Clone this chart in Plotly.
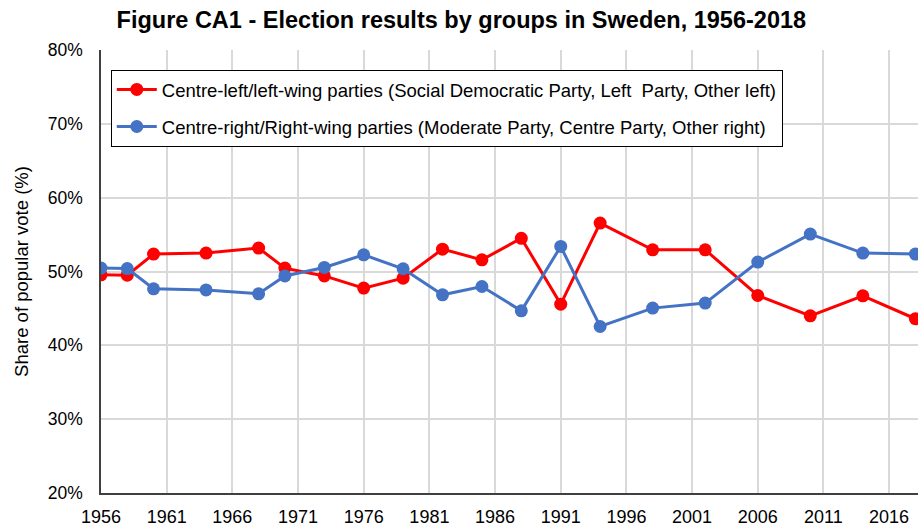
import plotly.graph_objects as go

years = [1956, 1958, 1960, 1964, 1968, 1970, 1973, 1976, 1979, 1982, 1985, 1988, 1991, 1994, 1998, 2002, 2006, 2010, 2014, 2018]
left = [49.55, 49.5, 52.36, 52.5, 53.17, 50.46, 49.4, 47.75, 49.1, 53.03, 51.58, 54.5, 45.58, 56.56, 52.94, 52.94, 46.75, 44.0, 46.7, 43.6]
right = [50.46, 50.4, 47.66, 47.5, 46.98, 49.4, 50.55, 52.26, 50.37, 46.84, 47.97, 44.67, 53.39, 42.55, 45.04, 45.72, 51.27, 55.07, 52.49, 52.36]
x_ticks = [1956, 1961, 1966, 1971, 1976, 1981, 1986, 1991, 1996, 2001, 2006, 2011, 2016]
y_ticks = [20, 30, 40, 50, 60, 70, 80]

name_left = "Centre-left/left-wing parties (Social Democratic Party, Left  Party, Other left)"
name_right = "Centre-right/Right-wing parties (Moderate Party, Centre Party, Other right)"

fig = go.Figure()
fig.add_trace(go.Scatter(x=years, y=left, mode="lines+markers", name=name_left, legendgroup="a",
                         line=dict(color="#FF0000", width=3), marker=dict(size=13, color="#FF0000")))
fig.add_trace(go.Scatter(x=years, y=right, mode="lines+markers", name=name_right, legendgroup="b",
                         line=dict(color="#4472C4", width=3), marker=dict(size=13, color="#4472C4")))

fig.update_layout(
    width=919, height=528,
    margin=dict(l=101, r=1, t=50, b=35, autoexpand=False),
    paper_bgcolor="white", plot_bgcolor="white",
    font=dict(family="Liberation Sans, Arial, sans-serif", color="#000000"),
    title=dict(text="<b>Figure CA1 - Election results by groups in Sweden, 1956-2018</b>",
               x=0.502, xanchor="center", y=0.962, yanchor="middle", font=dict(size=23.5)),
    showlegend=True,
    legend=dict(x=0.012, y=0.955, xanchor="left", yanchor="top",
                bordercolor="#000000", borderwidth=1, bgcolor="white",
                traceorder="grouped", tracegroupgap=10,
                font=dict(size=18.5), itemwidth=40),
    xaxis=dict(range=[1956, 2018.2], tickvals=x_ticks, ticktext=[str(t) for t in x_ticks],
               showgrid=True, gridcolor="#D9D9D9", gridwidth=1.5,
               showline=True, linecolor="#404040", linewidth=1.5, automargin=False,
               ticks="", ticklabelstandoff=7, tickfont=dict(size=18), zeroline=False),
    yaxis=dict(range=[20, 80], tickvals=y_ticks, ticktext=[f"{t}%" for t in y_ticks],
               showgrid=True, gridcolor="#D9D9D9", gridwidth=1.5,
               showline=True, linecolor="#404040", linewidth=1.5, automargin=False,
               ticks="", ticklabelstandoff=13, tickfont=dict(size=17.5), zeroline=False,
               title=dict(text="Share of popular vote (%)", font=dict(size=18.5), standoff=14)),
)

fig.write_html("out.html", config={"displayModeBar": False},
               post_script="document.body.style.margin='0';")
